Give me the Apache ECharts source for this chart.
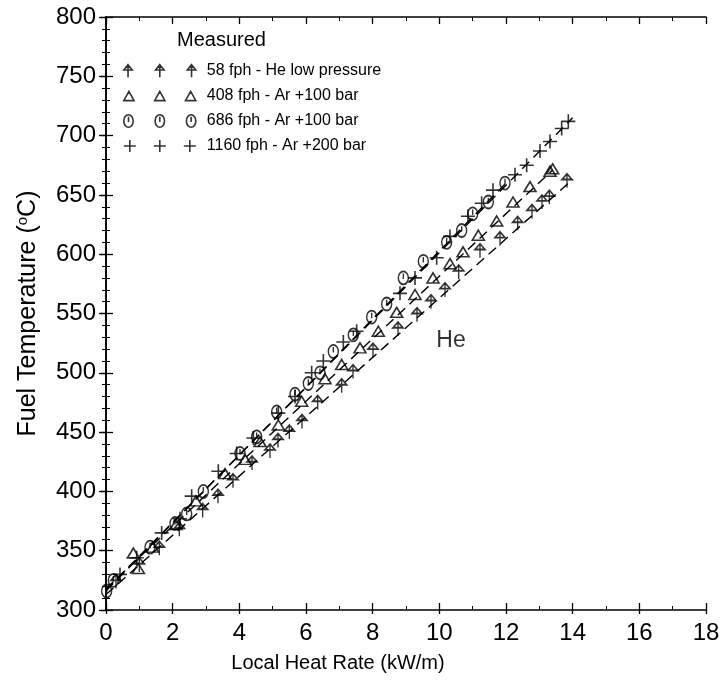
<!DOCTYPE html>
<html>
<head>
<meta charset="utf-8">
<script src="https://cdn.jsdelivr.net/npm/echarts@6/dist/echarts.min.js"></script>
<style>html,body{margin:0;padding:0;background:#fff}#c{width:723px;height:681px}</style>
</head>
<body>
<div id="c"></div>
<script>
// ---- data (Local Heat Rate kW/m, Fuel Temperature °C) ----
const seriesNames = ['58 fph - He low pressure','408 fph - Ar +100 bar','686 fph - Ar +100 bar','1160 fph - Ar +200 bar'];
const xTicks = [0,2,4,6,8,10,12,14,16,18];
const yTicks = [300,350,400,450,500,550,600,650,700,750,800];

const he58 = [[0.3,324],[1.0,338],[1.6,352],[2.2,368],[2.9,384],[3.36,396],[3.81,409],[4.38,424],[4.92,434],[5.16,443],[5.5,450],[5.88,459],[6.35,475],[7.07,489],[7.41,501],[8.01,519],[8.76,537],[9.33,549],[9.75,560],[10.17,570],[10.58,585],[11.22,603],[11.82,613],[12.35,626],[12.78,636],[13.08,644],[13.3,648],[13.83,662]];
const ar408 = [[0.82,348],[0.97,335],[1.4,353],[2.1,372],[2.7,392],[3.57,415],[4.17,427],[4.62,442],[5.17,456],[5.87,476],[6.57,495],[7.07,507],[7.62,521],[8.17,535],[8.72,551],[9.27,566],[9.81,580],[10.32,592],[10.71,602],[11.17,616],[11.72,628],[12.21,644],[12.72,657],[13.32,670],[13.4,672]];
const ar686 = [[0.02,316],[0.22,325],[1.32,353],[2.07,373],[2.42,381],[2.92,400],[4.02,432],[4.52,446],[5.12,467],[5.67,482],[6.07,491],[6.42,500],[6.82,518],[7.42,532],[7.97,547],[8.42,558],[8.92,580],[9.52,594],[10.22,610],[10.67,620],[11.0,634],[11.47,644],[11.97,660]];
const ar1160 = [[0.42,330],[0.92,344],[1.67,365],[2.22,377],[2.57,396],[3.37,417],[3.92,432],[4.42,445],[5.17,466],[5.67,480],[6.17,500],[6.52,510],[7.12,526],[7.52,535],[8.82,567],[9.27,580],[9.92,597],[10.32,615],[10.86,632],[11.27,643],[11.61,654],[12.27,667],[12.62,675],[13.02,687],[13.32,695],[13.67,706],[13.87,712]];

// dashed fit lines (end points)
const fitHe = [[0,313],[14,663]];
const fit408 = [[0,318],[13.4,671]];
const fit686 = [[0,316],[12,660]];
const fit1160 = [[0,317],[14,715]];

const heLabel = [[10.35,527]];

// ---- glyphs ----
const gArrow = 'M5,0 L9,5 L1,5 Z M5,0 L5,12';
const gTri = 'M5,0 L10,9 L0,9 Z';
const gCirc = 'M5,0 A4.5,6 0 1,1 5,12 A4.5,6 0 1,1 5,0 Z M5,2 L5,7';
const gPlus = 'M6,0 L6,12 M0,6 L12,6';
function shift(p, dx){
  return p.replace(/([MLA])([^MLAZ]*)/g, function(m, c, args){
    const n = args.trim().split(/[\s,]+/).map(Number);
    if (c === 'A') { n[5] += dx; return 'A' + n[0]+','+n[1]+' '+n[2]+' '+n[3]+','+n[4]+' '+n[5]+','+n[6]+' '; }
    n[0] += dx;
    return c + n[0] + ',' + n[1] + ' ';
  });
}
function triple(p){ return 'path://' + p + ' ' + shift(p,30) + ' ' + shift(p,60); }

const chart = echarts.init(document.getElementById('c'), null, {renderer:'canvas'});
const FONT = 'Liberation Sans, Arial, sans-serif';
const hollow = {color:'rgba(0,0,0,0)', borderColor:'#000', borderWidth:1.6};

function scat(name, data, glyph, size){
  return {name, type:'scatter', data, symbol:'path://'+glyph, symbolSize:size,
    itemStyle: hollow, z:3, emphasis:{disabled:true}};
}
function fit(data){
  return {type:'line', data, symbol:'none', silent:true,
    lineStyle:{color:'#000', width:1.4, type:[10,6]}, z:2};
}
const baseX = {type:'value', min:0, max:18, interval:2};
const baseY = {type:'value', min:300, max:800, interval:50};

chart.setOption({
  animation:false,
  backgroundColor:'#fff',
  title:{text:'Measured', left:172, top:25, textStyle:{fontFamily:FONT, fontSize:20, fontWeight:'normal', color:'#000'}},
  legend:{
    orient:'vertical', left:118, top:58, itemGap:9, itemWidth:72, itemHeight:14,
    textStyle:{fontFamily:FONT, fontSize:16, color:'#000', padding:[0,0,0,6]},
    selectedMode:false,
    data:[
      {name:seriesNames[0], icon:triple(gArrow), itemStyle:hollow},
      {name:seriesNames[1], icon:triple(gTri), itemStyle:hollow},
      {name:seriesNames[2], icon:triple(gCirc), itemStyle:hollow},
      {name:seriesNames[3], icon:triple(gPlus), itemStyle:hollow}
    ]
  },
  grid:{left:106, right:17, top:17, bottom:71, containLabel:false},
  xAxis:[
    Object.assign({}, baseX, {position:'bottom',
      name:'Local Heat Rate (kW/m)', nameLocation:'middle', nameGap:43,
      nameTextStyle:{fontFamily:FONT, fontSize:20, color:'#000', padding:[0,136,0,0]},
      axisLine:{lineStyle:{color:'#000', width:1.6}},
      axisTick:{inside:true, length:7, lineStyle:{color:'#000', width:1.3}},
      minorTick:{show:true, splitNumber:2, length:4, lineStyle:{color:'#000', width:1}},
      axisLabel:{fontFamily:FONT, fontSize:24, color:'#000', margin:11, formatter:v=>xTicks.includes(v)?String(v):''},
      splitLine:{show:false}}),
    Object.assign({}, baseX, {position:'top',
      axisLine:{lineStyle:{color:'#000', width:1.6}},
      axisTick:{inside:true, length:7, lineStyle:{color:'#000', width:1.3}},
      minorTick:{show:true, splitNumber:2, length:4, lineStyle:{color:'#000', width:1}},
      axisLabel:{show:false}, splitLine:{show:false}}),
    Object.assign({}, baseX, {position:'bottom',
      axisLine:{show:false},
      axisTick:{inside:false, length:4, lineStyle:{color:'#000', width:1.3}},
      axisLabel:{show:false}, splitLine:{show:false}})
  ],
  yAxis:[
    Object.assign({}, baseY, {position:'left',
      name:'{a|Fuel Temperature (}{s|o}{a|C)}', nameLocation:'middle', nameGap:64,
      nameTextStyle:{rich:{a:{fontFamily:FONT, fontSize:25, color:'#000'}, s:{fontFamily:FONT, fontSize:15, color:'#000', verticalAlign:'top', padding:[0,0,12,0]}}},
      axisLine:{lineStyle:{color:'#000', width:1.6}},
      axisTick:{inside:true, length:7, lineStyle:{color:'#000', width:1.3}},
      minorTick:{show:true, splitNumber:5, length:4, lineStyle:{color:'#000', width:1}},
      axisLabel:{fontFamily:FONT, fontSize:24, color:'#000', margin:10, formatter:v=>yTicks.includes(v)?String(v):''},
      splitLine:{show:false}}),
    Object.assign({}, baseY, {position:'right',
      axisLine:{lineStyle:{color:'#000', width:1.6}},
      axisTick:{inside:true, length:7, lineStyle:{color:'#000', width:1.3}},
      minorTick:{show:true, splitNumber:5, length:4, lineStyle:{color:'#000', width:1}},
      axisLabel:{show:false}, splitLine:{show:false}}),
    Object.assign({}, baseY, {position:'left',
      axisLine:{show:false},
      axisTick:{inside:false, length:5, lineStyle:{color:'#000', width:1.3}},
      axisLabel:{show:false}, splitLine:{show:false}})
  ],
  series:[
    fit(fitHe), fit(fit408), fit(fit686), fit(fit1160),
    scat(seriesNames[0], he58, gArrow, [10,14]),
    scat(seriesNames[1], ar408, gTri, [12,10]),
    scat(seriesNames[2], ar686, gCirc, [10,13]),
    scat(seriesNames[3], ar1160, gPlus, [14,14]),
    {type:'scatter', data:heLabel, symbolSize:0, silent:true,
      label:{show:true, position:'inside', formatter:'He', fontFamily:FONT, fontSize:23, color:'#000'}}
  ]
});
</script>
</body>
</html>
